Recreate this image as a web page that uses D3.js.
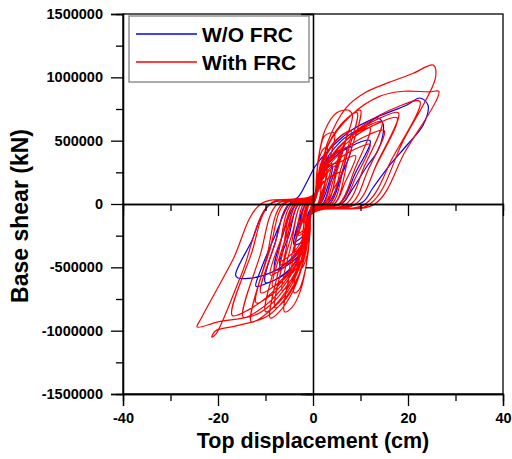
<!DOCTYPE html>
<html>
<head>
<meta charset="utf-8">
<script src="https://cdn.jsdelivr.net/npm/d3@7"></script>
<style>
    body { margin: 0; background: #fff; }
    text { font-family: "Liberation Sans", Arial, sans-serif; font-weight: bold; }
</style>
</head>
<body>
<div id="chart"></div>
<script>
// axis ticks
const xMajorTicks = [-40, -20, 0, 20, 40];
const xMinorTicks = [-30, -10, 10, 30];
const yMajorTicks = [-1500000, -1000000, -500000, 0, 500000, 1000000, 1500000];
const yMinorTicks = [-1250000, -750000, -250000, 250000, 750000, 1250000];

const seriesNames = ["W/O FRC", "With FRC"];

// top displacement (cm), base shear (kN)
const woFrc = [
    [0, 0],
    [0.3, 20000], [0.8, 160000], [2, 270000], [4, 300000], [3.2, 150000], [1.5, 0],
    [-0.3, -20000], [-0.8, -170000], [-2, -290000], [-4, -320000], [-3.2, -160000], [-1.5, 0],
    [0.3, 30000], [1.2, 200000], [3.2, 360000], [7, 430000], [5.8, 215000], [3, 0],
    [-0.4, -30000], [-1.2, -240000], [-3.6, -430000], [-8, -520000], [-6.5, -260000], [-3.5, 0],
    [0.3, 40000], [1.5, 260000], [6, 500000], [11, 620000], [13.5, 680000], [14.7, 640000], [14.7, 540000], [13.5, 410000], [11.4, 300000], [8, 100000], [6, 0],
    [-0.5, -40000], [-1.8, -300000], [-5.4, -540000], [-10, -630000], [-12, -650000], [-11, -520000], [-8, -250000], [-5, 0],
    [-3, 60000], [-1.3, 173700], [0.5, 300000], [2.95, 410500], [8, 580000], [13.5, 686800], [19.8, 781600], [22.5, 836800], [24.2, 781600], [23.2, 623700], [19.8, 465800], [16.2, 307900], [12.6, 126300], [10.5, 15800], [5, -30000],
    [0, -50000], [-2, -300000], [-6, -480000], [-11, -570000], [-15.8, -584000], [-16.3, -560000], [-13, -300000], [-9, 0],
    [0.3, 40000], [1.5, 220000], [5.5, 400000], [12, 500000], [9, 250000], [5.5, 0],
    [-0.5, -40000], [-1.5, -280000], [-4.5, -500000], [-10, -620000], [-8, -310000], [-5, 0],
    [0.3, 30000], [1.2, 200000], [3.6, 360000], [8, 450000], [6, 225000], [3.5, 0],
    [-0.3, -30000], [-1, -210000], [-3.2, -390000], [-7, -480000], [-5, -240000], [-3, 0],
    [0.2, 20000], [0.8, 140000], [2.2, 260000], [5, 320000], [3.6, 160000], [2, 0],
    [-0.2, -20000], [-0.6, -130000], [-1.8, -240000], [-4, -300000], [-2.8, -150000], [-1.5, 0],
    [0, 0]
];

const withFrc = [
    [0, 0],
    [0.3, 20000], [0.66, 100000], [1.35, 187500], [2.4, 237500], [3, 250000], [2.1, 112500], [1.2, 0],
    [-0.3, -18000], [-0.66, -92000], [-1.35, -172500], [-2.4, -218500], [-3, -230000], [-2.1, -103500], [-1.2, 0],
    [0.3, 34000], [0.96, 168000], [2.5, 315000], [4.4, 400000], [5.5, 420000], [3.85, 189000], [2.2, 0],
    [-0.3, -38000], [-1.02, -192000], [-2.7, -360000], [-4.8, -456000], [-6, -480000], [-4.25, -216000], [-2.5, 0],
    [0.3, 46000], [1.26, 232000], [3.6, 435000], [6.4, 551000], [8, 580000], [5.75, 261000], [3.5, 0],
    [-0.3, -52000], [-1.32, -260000], [-3.83, -487500], [-6.8, -617500], [-8.5, -650000], [-6, -292500], [-3.5, 0],
    [0.3, 58000], [1.4, 288000], [4.2, 540000], [7.4, 684000], [9.3, 720000], [6.65, 324000], [4, 0],
    [-0.3, -62000], [-1.74, -312000], [-5.4, -585000], [-9.6, -741000], [-12, -780000], [-9, -351000], [-6, 0],
    [0.3, 48000], [1.74, 240000], [5.4, 450000], [9.6, 570000], [12, 600000], [8.75, 270000], [5.5, 0],
    [-0.3, -68000], [-1.5, -340000], [-4.5, -637500], [-8, -807500], [-10, -850000], [-7.25, -382500], [-4.5, 0],
    [0.3, 52000], [2.04, 260000], [6.5, 488000], [11.6, 618000], [14.5, 650000], [10.75, 292000], [7, 0],
    [-0.3, -71000], [-2.06, -357000], [-6.6, -670000], [-11.8, -848000], [-14.7, -893000], [-11.1, -402000], [-7.5, 0],
    [0.3, 58000], [2.46, 288000], [8.1, 540000], [14.4, 684000], [18, 720000], [13.5, 324000], [9, 0],
    [-0.3, -70000], [-2.34, -352000], [-7.65, -660000], [-13.6, -836000], [-17, -880000], [-13, -396000], [-9, 0],
    // largest excursions
    [0.3, 80000], [3, 480000], [7, 760000], [11, 880000], [16, 960000], [21, 1030000], [25.3, 1097000], [25.8, 1000000], [19, 500000], [12, 0],
    [-0.3, -78000], [-2.9, -485000], [-11, -855000], [-20, -930000], [-24.4, -971000], [-23.5, -900000], [-17, -450000], [-11, 0],
    [0.4, 70000], [3, 450000], [8, 700000], [14, 850000], [19, 890000], [24.5, 885000], [26.5, 890000], [26, 820000], [19.5, 420000], [13, 0],
    [-0.3, -80000], [-2.5, -520000], [-9, -870000], [-16, -960000], [-20.5, -1000000], [-21.3, -1050000], [-20.5, -1030000], [-15, -550000], [-9, 0],
    [0.3, 65000], [3, 324000], [10.1, 608000], [18, 770000], [22.5, 810000], [16.75, 365000], [11, 0],
    [-0.3, -74000], [-1.86, -372000], [-5.85, -697500], [-10.4, -883500], [-13, -930000], [-9.75, -418500], [-6.5, 0],
    [0.3, 54000], [2.4, 272000], [8, 510000], [14.2, 646000], [17.7, 680000], [13.35, 306000], [9, 0],
    [-0.3, -72000], [-1.38, -360000], [-4.05, -675000], [-7.2, -855000], [-9, -900000], [-6.5, -405000], [-4, 0],
    [0.3, 59000], [1.5, 296000], [4.5, 555000], [8, 703000], [10, 740000], [7.25, 333000], [4.5, 0],
    [-0.3, -66000], [-1.26, -328000], [-3.6, -615000], [-6.4, -779000], [-8, -820000], [-5.75, -369000], [-3.5, 0],
    // steep loops close to the origin
    [0.3, 60000], [1, 330000], [2.5, 580000], [5, 720000], [7.5, 740000], [8.3, 700000], [5.5, 360000], [3, 0],
    [-0.3, -68000], [-1, -380000], [-2.6, -680000], [-4.5, -820000], [-6, -850000], [-4, -400000], [-2, 0],
    [0.3, 45000], [0.8, 250000], [1.6, 450000], [2.5, 540000], [4.5, 560000], [3, 280000], [1.5, 0],
    [-0.3, -56000], [-0.8, -300000], [-1.8, -550000], [-3, -680000], [-4, -700000], [-2.5, -330000], [-1, 0],
    [0.3, 46000], [2.1, 232000], [6.75, 435000], [12, 551000], [15, 580000], [11.5, 261000], [8, 0],
    [-0.3, -56000], [-1.62, -280000], [-4.95, -525000], [-8.8, -665000], [-11, -700000], [-8, -315000], [-5, 0],
    [0.3, 45000], [1.14, 224000], [3.15, 420000], [5.6, 532000], [7, 560000], [5, 252000], [3, 0],
    [-0.3, -54000], [-1.08, -272000], [-2.93, -510000], [-5.2, -646000], [-6.5, -680000], [-4.5, -306000], [-2.5, 0],
    [0.3, 36000], [0.7, 200000], [1.3, 360000], [2.2, 435000], [3, 450000], [2, 220000], [1, 0],
    [-0.3, -40000], [-0.6, -220000], [-1.3, -410000], [-2.2, -500000], [-3, -520000], [-1.9, -250000], [-0.8, 0],
    [0.3, 38000], [1.74, 188000], [5.4, 352000], [9.6, 446000], [12, 470000], [9, 211000], [6, 0],
    [-0.3, -45000], [-1.38, -224000], [-4.05, -420000], [-7.2, -532000], [-9, -560000], [-6.5, -252000], [-4, 0],
    [0.3, 34000], [1.02, 168000], [2.7, 315000], [4.8, 400000], [6, 420000], [4.25, 189000], [2.5, 0],
    [-0.3, -45000], [-0.9, -224000], [-2.25, -420000], [-4, -532000], [-5, -560000], [-3.5, -252000], [-2, 0],
    [0.3, 30000], [1.38, 152000], [4.05, 285000], [7.2, 361000], [9, 380000], [6.75, 171000], [4.5, 0],
    [-0.3, -36000], [-1.14, -180000], [-3.15, -337500], [-5.6, -427500], [-7, -450000], [-5, -202500], [-3, 0],
    [0.3, 26000], [0.78, 128000], [1.8, 240000], [3.2, 304000], [4, 320000], [2.75, 144000], [1.5, 0],
    [-0.3, -30000], [-0.78, -152000], [-1.8, -285000], [-3.2, -361000], [-4, -380000], [-2.75, -171000], [-1.5, 0],
    [0.3, 20000], [1.02, 100000], [2.7, 188000], [4.8, 238000], [6, 250000], [4.25, 112000], [2.5, 0],
    [-0.3, -20000], [-0.66, -100000], [-1.35, -187500], [-2.4, -237500], [-3, -250000], [-2, -112500], [-1, 0],
    [0.3, 14000], [0.6, 72000], [1.13, 135000], [2, 171000], [2.5, 180000], [1.75, 81000], [1, 0],
    [-0.3, -12000], [-0.54, -60000], [-0.9, -112500], [-1.6, -142500], [-2, -150000], [-1.4, -67500], [-0.8, 0],
    [0, 0]
];

function drawChart() {
    const margin = { top: 14, right: 9, bottom: 65, left: 123 },
        width = 512 - margin.left - margin.right,
        height = 459 - margin.top - margin.bottom;

    const svg = d3.select("#chart")
        .append("svg")
        .attr("width", 512)
        .attr("height", 459)
        .append("g")
        .attr("transform", `translate(${margin.left}, ${margin.top})`);

    const x = d3.scaleLinear().domain([-40, 40]).range([0, width]);
    const y = d3.scaleLinear().domain([-1500000, 1500000]).range([height, 0]);

    const line = d3.line()
        .x(d => x(d[0]))
        .y(d => y(d[1]))
        .curve(d3.curveCatmullRom.alpha(0.5));

    // loops: blue first, red drawn over it
    svg.append("path")
        .datum(woFrc)
        .attr("d", line)
        .attr("fill", "none")
        .attr("stroke", "#0000ff")
        .attr("stroke-width", 1.2);

    svg.append("path")
        .datum(withFrc)
        .attr("d", line)
        .attr("fill", "none")
        .attr("stroke", "#ff0000")
        .attr("stroke-width", 1.2);

    // frame
    svg.append("rect")
        .attr("width", width)
        .attr("height", height)
        .attr("fill", "none")
        .attr("stroke", "black")
        .attr("stroke-width", 1.3);

    const label = d => String(d);

    // outer axes, labelled majors + short minors
    svg.append("g")
        .attr("transform", `translate(0, ${height})`)
        .call(d3.axisBottom(x).tickValues(xMajorTicks).tickFormat(label).tickSize(12).tickPadding(7));
    svg.append("g")
        .attr("transform", `translate(0, ${height})`)
        .call(d3.axisBottom(x).tickValues(xMinorTicks).tickFormat("").tickSize(7));
    svg.append("g")
        .call(d3.axisLeft(y).tickValues(yMajorTicks).tickFormat(label).tickSize(12).tickPadding(8));
    svg.append("g")
        .call(d3.axisLeft(y).tickValues(yMinorTicks).tickFormat("").tickSize(7));

    // zero axes through the middle
    svg.append("g")
        .attr("transform", `translate(0, ${y(0)})`)
        .call(d3.axisBottom(x).tickValues([-20, 20]).tickFormat("").tickSize(12));
    svg.append("g")
        .attr("transform", `translate(0, ${y(0)})`)
        .call(d3.axisBottom(x).tickValues(xMinorTicks).tickFormat("").tickSize(7));
    svg.append("g")
        .attr("transform", `translate(${x(0)}, 0)`)
        .call(d3.axisLeft(y).tickValues([-1000000, 1000000]).tickFormat("").tickSize(12));
    svg.append("g")
        .attr("transform", `translate(${x(0)}, 0)`)
        .call(d3.axisLeft(y).tickValues([-500000, 500000]).tickFormat("").tickSize(7));

    svg.selectAll(".domain").attr("stroke-width", 1.3);
    svg.selectAll(".tick line").attr("stroke-width", 1.3);
    svg.selectAll(".tick text")
        .attr("font-size", "14.5px")
        .attr("font-weight", "bold")
        .attr("font-family", "'Liberation Sans', Arial, sans-serif")
        .attr("fill", "black");

    // axis titles
    svg.append("text")
        .attr("x", width / 2)
        .attr("y", height + 54)
        .attr("text-anchor", "middle")
        .attr("font-size", "21.5px")
        .text("Top displacement (cm)");

    svg.append("text")
        .attr("transform", `translate(${28 - margin.left}, ${216 - margin.top}) rotate(-90)`)
        .attr("text-anchor", "middle")
        .attr("font-size", "23px")
        .text("Base shear (kN)");

    // legend
    const legend = svg.append("g")
        .attr("transform", "translate(6, 2)");
    legend.append("rect")
        .attr("width", 180)
        .attr("height", 66)
        .attr("fill", "white")
        .attr("stroke", "#808080")
        .attr("stroke-width", 1.3);

    const colors = ["#0000ff", "#ff0000"];
    seriesNames.forEach((name, i) => {
        legend.append("line")
            .attr("x1", 7)
            .attr("x2", 68)
            .attr("y1", 18 + i * 28)
            .attr("y2", 18 + i * 28)
            .attr("stroke", colors[i])
            .attr("stroke-width", 1.3);
        legend.append("text")
            .attr("x", 73)
            .attr("y", 25.5 + i * 28)
            .attr("font-size", "21px")
            .text(name);
    });
}

drawChart();
</script>
</body>
</html>
